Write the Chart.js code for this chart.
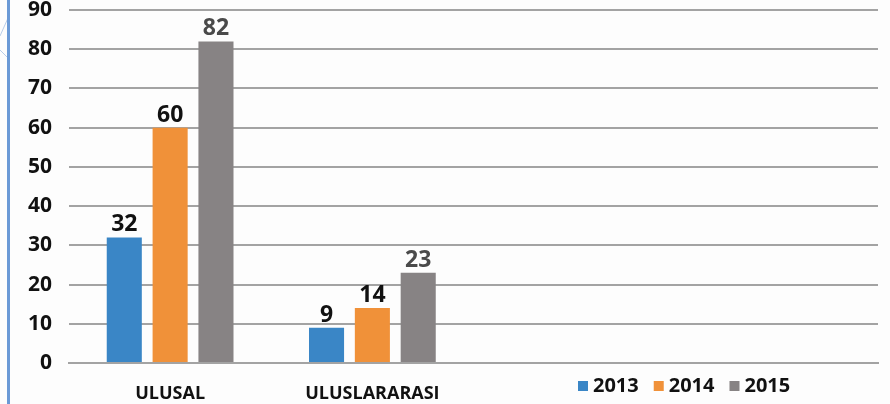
<!DOCTYPE html>
<html>
<head>
<meta charset="utf-8">
<script src="https://cdn.jsdelivr.net/npm/chart.js@4.4.0/dist/chart.umd.min.js"></script>
<style>
  html, body { margin: 0; padding: 0; background: #fdfdfd; }
  #wrap { position: relative; width: 890px; height: 404px; }
  #edge { position: absolute; left: 7px; top: 0; width: 3px; height: 404px; background: #6b9ad6; }
  #deco { position: absolute; left: 0; top: 0; }
</style>
</head>
<body>
<div id="wrap">
  <canvas id="myChart" width="890" height="404"></canvas>
  <svg id="deco" width="8" height="404">
    <line x1="0" y1="36" x2="8" y2="18" stroke="#b9cde8" stroke-width="1"/>
    <line x1="0" y1="50" x2="8" y2="58" stroke="#b9cde8" stroke-width="1"/>
  </svg>
  <div id="edge"></div>
</div>
<script>
const categories = ["ULUSAL", "ULUSLARARASI", "", ""];
const years = ["2013", "2014", "2015"];
const values2013 = [32, 9, null, null];
const values2014 = [60, 14, null, null];
const values2015 = [82, 23, null, null];
const yTicks = [0, 10, 20, 30, 40, 50, 60, 70, 80, 90];

const colors = ["#3a86c6", "#f09139", "#878384"];
const labelColors = ["#111111", "#111111", "#4a4a4a"];
const font = "'Open Sans', 'DejaVu Sans', sans-serif";

// value labels above bars
const barLabels = {
  id: "barLabels",
  afterDatasetsDraw(chart) {
    const c = chart.ctx;
    c.save();
    c.font = "bold 23px " + font;
    c.textAlign = "center";
    c.textBaseline = "alphabetic";
    chart.data.datasets.forEach((ds, i) => {
      chart.getDatasetMeta(i).data.forEach((bar, j) => {
        if (ds.data[j] == null) return;
        c.fillStyle = labelColors[i];
        c.fillText(ds.data[j], bar.x, bar.y - 6);
      });
    });
    c.restore();
  }
};

// legend on the same row as the category labels
const sideLegend = {
  id: "sideLegend",
  afterDraw(chart) {
    const c = chart.ctx;
    const area = chart.chartArea;
    c.save();
    c.font = "bold 20px " + font;
    c.textBaseline = "middle";
    let x = area.left + 509;
    const y = area.bottom + 23;
    years.forEach((y0, i) => {
      c.fillStyle = colors[i];
      c.fillRect(x, y - 5, 10, 10);
      c.fillStyle = "#111111";
      c.fillText(y0, x + 15, y);
      x += 15 + c.measureText(y0).width + 15;
    });
    c.restore();
  }
};

new Chart(document.getElementById("myChart"), {
  type: "bar",
  data: {
    labels: categories,
    datasets: [
      { label: years[0], data: values2013, backgroundColor: colors[0] },
      { label: years[1], data: values2014, backgroundColor: colors[1] },
      { label: years[2], data: values2015, backgroundColor: colors[2] },
    ],
  },
  options: {
    responsive: false,
    animation: false,
    layout: { padding: { left: 10, right: 12, top: 10, bottom: 0 } },
    plugins: { legend: { display: false }, tooltip: { enabled: false } },
    datasets: { bar: { categoryPercentage: 0.68, barPercentage: 0.765 } },
    scales: {
      x: {
        grid: { display: false },
        border: { color: "#a3a3a3", width: 2 },
        ticks: { color: "#111111", font: { family: font, size: 18, weight: "bold" }, padding: 12 },
        afterFit(axis) {
          axis.height = 41;
          axis.paddingLeft = 0;
          axis.paddingRight = 0;
        },
      },
      y: {
        min: 0,
        max: 90,
        afterBuildTicks(axis) { axis.ticks = yTicks.map(v => ({ value: v })); },
        grid: { color: "#a3a3a3", lineWidth: 2, drawTicks: false },
        border: { display: false },
        ticks: { color: "#111111", font: { family: font, size: 21, weight: "bold" }, padding: 17 },
        afterFit(axis) {
          axis.width = 59;
          axis.paddingTop = 0;
          axis.paddingBottom = 0;
        },
      },
    },
  },
  plugins: [barLabels, sideLegend],
});
</script>
</body>
</html>
